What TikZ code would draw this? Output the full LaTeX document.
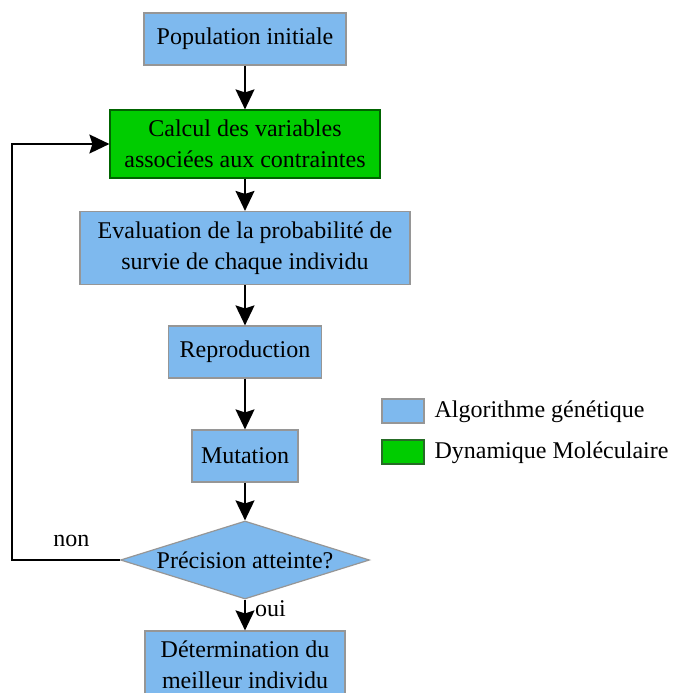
\documentclass[tikz,border=0pt]{standalone}
\usepackage{fontspec}
\setmainfont{Liberation Serif}
\usetikzlibrary{shapes.geometric,arrows.meta}
\definecolor{agblue}{RGB}{126,185,238}
\definecolor{agedge}{RGB}{150,150,150}
\definecolor{dmgreen}{RGB}{0,204,0}
\definecolor{dmedge}{RGB}{0,100,0}
\begin{document}
\begin{tikzpicture}[x=1pt,y=-1pt,
	every node/.style={font=\fontsize{24}{30.5}\selectfont},
	ag/.style={draw=agedge,line width=1.2pt,fill=agblue,align=center,inner sep=0pt},
	dm/.style={draw=dmedge,line width=1.2pt,fill=dmgreen,align=center,inner sep=0pt},
	arr/.style={-{Stealth[length=20pt,width=19pt,inset=3pt]},line width=1.6pt}]
	\useasboundingbox (0,0) rectangle (675,693);
	% boites de l'algorithme
	\node[ag,minimum width=202,minimum height=52] (pop) at (245,39) {Population initiale};
	\node[dm,minimum width=270,minimum height=68] (calc) at (245,144) {Calcul des variables\\associées aux contraintes};
	\node[ag,minimum width=330,minimum height=73] (eval) at (245,248) {Evaluation de la probabilité de\\survie de chaque individu};
	\node[ag,minimum width=153,minimum height=52] (repro) at (245,352) {Reproduction};
	\node[ag,minimum width=106,minimum height=52] (mut) at (245,456) {Mutation};
	\node[ag,diamond,aspect=3.2,minimum width=249,minimum height=78] (test) at (245,560) {Précision atteinte?};
	\node[ag,minimum width=200,minimum height=68] (best) at (245,665) {Détermination du\\meilleur individu};
	% liaisons
	\draw[arr] (pop) -- (calc);
	\draw[arr] (calc) -- (eval);
	\draw[arr] (eval) -- (repro);
	\draw[arr] (repro) -- (mut);
	\draw[arr] (mut) -- (test);
	\draw[arr] (test) -- node[right,pos=0.3,xshift=6pt] {oui} (best);
	\draw[arr] (test.west) -- node[above,pos=0.45,yshift=9pt] {non} ++(-108,0) |- (calc.west);
	% legende
	\node[draw=agedge,line width=1.2pt,fill=agblue,minimum width=42,minimum height=24,inner sep=0pt] (legag) at (403,411) {};
	\node[anchor=west] (txtag) at (431,412) {Algorithme génétique};
	\node[draw=dmedge!70!gray,line width=1.2pt,fill=dmgreen,minimum width=42,minimum height=24,inner sep=0pt] (legdm) at (403,452) {};
	\node[anchor=west] (txtdm) at (431,453) {Dynamique Moléculaire};
\end{tikzpicture}
\end{document}
